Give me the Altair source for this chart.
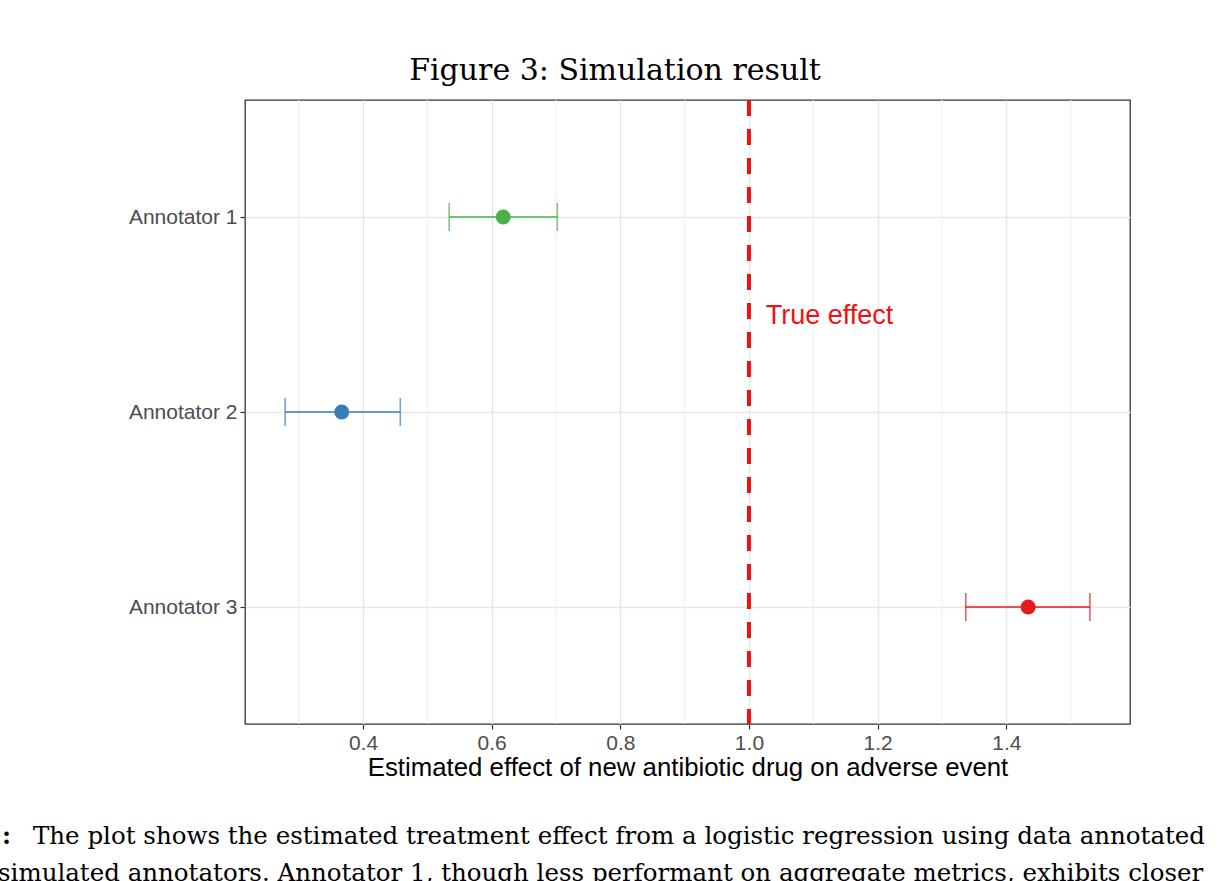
import altair as alt
import pandas as pd

# ---- data ----
annotators = ["Annotator 1", "Annotator 2", "Annotator 3"]
positions = [1, 2, 3]
estimates = [0.618, 0.367, 1.434]
lower = [0.534, 0.279, 1.337]
upper = [0.702, 0.458, 1.530]
colors = ["#4DAF4A", "#377EB8", "#E41A1C"]

major_ticks = [0.4, 0.6, 0.8, 1.0, 1.2, 1.4]
minor_ticks = [0.3, 0.5, 0.7, 0.9, 1.1, 1.3, 1.5]
true_effect = [1.0]
label_x = [1.026]
label_y = [1.51]

title_text = "Figure 3: Simulation result"
x_title = "Estimated effect of new antibiotic drug on adverse event"
caption_1 = "The plot shows the estimated treatment effect from a logistic regression using data annotated"
caption_2 = "simulated annotators. Annotator 1, though less performant on aggregate metrics, exhibits closer"

df = pd.DataFrame({"annotator": annotators, "pos": positions, "est": estimates,
                   "lo": lower, "hi": upper})
minor_df = pd.DataFrame({"v": minor_ticks})
true_df = pd.DataFrame({"v": true_effect, "lx": label_x, "ly": label_y, "t": ["True effect"]})
one = pd.DataFrame({"a": [0]})

W, H = 885, 624
xscale = alt.Scale(domain=[0.2166, 1.5923], nice=False, zero=False)
yscale = alt.Scale(domain=[0.4, 3.6], reverse=True, nice=False, zero=False)
cscale = alt.Scale(domain=annotators, range=colors)

xaxis = alt.Axis(values=major_ticks, format=".1f", title=x_title,
                 labelFontSize=21, labelColor="#4D4D4D", labelFont="Liberation Sans",
                 labelPadding=3, tickColor="#333333", tickSize=5, tickWidth=1.2,
                 domain=False, grid=True, gridColor="#E8E8E8", gridWidth=1.5,
                 titleFontSize=25.8, titleFont="Liberation Sans", titleFontWeight="normal",
                 titleColor="#000000", titlePadding=2)
yaxis = alt.Axis(values=positions, labelExpr="'Annotator ' + datum.value", title=None,
                 labelFontSize=21, labelColor="#4D4D4D", labelFont="Liberation Sans",
                 labelPadding=3, tickColor="#333333", tickSize=5, tickWidth=1.2,
                 domain=False, grid=True, gridColor="#E8E8E8", gridWidth=1.5)

base = alt.Chart(df)

minor = alt.Chart(minor_df).mark_rule(color="#EEEEEE", strokeWidth=1).encode(
    x=alt.X("v:Q", scale=xscale, axis=xaxis))

bars = base.mark_rule(strokeWidth=1.6).encode(
    x=alt.X("lo:Q", scale=xscale, axis=xaxis),
    x2="hi:Q",
    y=alt.Y("pos:Q", scale=yscale, axis=yaxis),
    color=alt.Color("annotator:N", scale=cscale, legend=None))

caps_lo = base.mark_tick(orient="vertical", size=28, thickness=1.6).encode(
    x=alt.X("lo:Q", scale=xscale, axis=xaxis),
    y=alt.Y("pos:Q", scale=yscale, axis=yaxis),
    color=alt.Color("annotator:N", scale=cscale, legend=None))
caps_hi = base.mark_tick(orient="vertical", size=28, thickness=1.6).encode(
    x=alt.X("hi:Q", scale=xscale, axis=xaxis),
    y=alt.Y("pos:Q", scale=yscale, axis=yaxis),
    color=alt.Color("annotator:N", scale=cscale, legend=None))

points = base.mark_circle(size=225, opacity=1).encode(
    x=alt.X("est:Q", scale=xscale, axis=xaxis),
    y=alt.Y("pos:Q", scale=yscale, axis=yaxis),
    color=alt.Color("annotator:N", scale=cscale, legend=None))

vline = alt.Chart(true_df).mark_rule(color="#EE1111", strokeWidth=4, strokeDash=[16, 13]).encode(
    x=alt.X("v:Q", scale=xscale, axis=xaxis))

vlabel = alt.Chart(true_df).mark_text(align="left", baseline="middle", fontSize=27,
                                      font="Liberation Sans", color="#EE1111").encode(
    x=alt.X("lx:Q", scale=xscale, axis=xaxis),
    y=alt.Y("ly:Q", scale=yscale, axis=yaxis),
    text="t:N")

title = alt.Chart(one).mark_text(align="center", baseline="alphabetic", fontSize=30,
                                 font="DejaVu Serif", color="#000000").encode(
    x=alt.value(370), y=alt.value(-20), text=alt.value(title_text))

cap_colon = alt.Chart(one).mark_text(align="left", baseline="alphabetic", fontSize=24.5,
                                     font="DejaVu Serif", fontWeight="bold", color="#000000").encode(
    x=alt.value(-243), y=alt.value(744), text=alt.value(":"))
cap1 = alt.Chart(one).mark_text(align="left", baseline="alphabetic", fontSize=24.5,
                                font="DejaVu Serif", color="#000000").encode(
    x=alt.value(-212), y=alt.value(744), text=alt.value(caption_1))
cap2 = alt.Chart(one).mark_text(align="left", baseline="alphabetic", fontSize=24.5,
                                font="DejaVu Serif", color="#000000").encode(
    x=alt.value(-247), y=alt.value(781), text=alt.value(caption_2))

chart = alt.layer(minor, bars, caps_lo, caps_hi, points, vline, vlabel,
                  title, cap_colon, cap1, cap2).properties(
    width=W, height=H,
    autosize=alt.AutoSizeParams(type="none"),
    padding={"left": 245, "top": 100, "right": 100, "bottom": 157},
    background="white",
).configure_view(stroke="#333333", strokeWidth=1.3)

chart.save("out.html", embed_options={"renderer": "svg", "actions": False})
